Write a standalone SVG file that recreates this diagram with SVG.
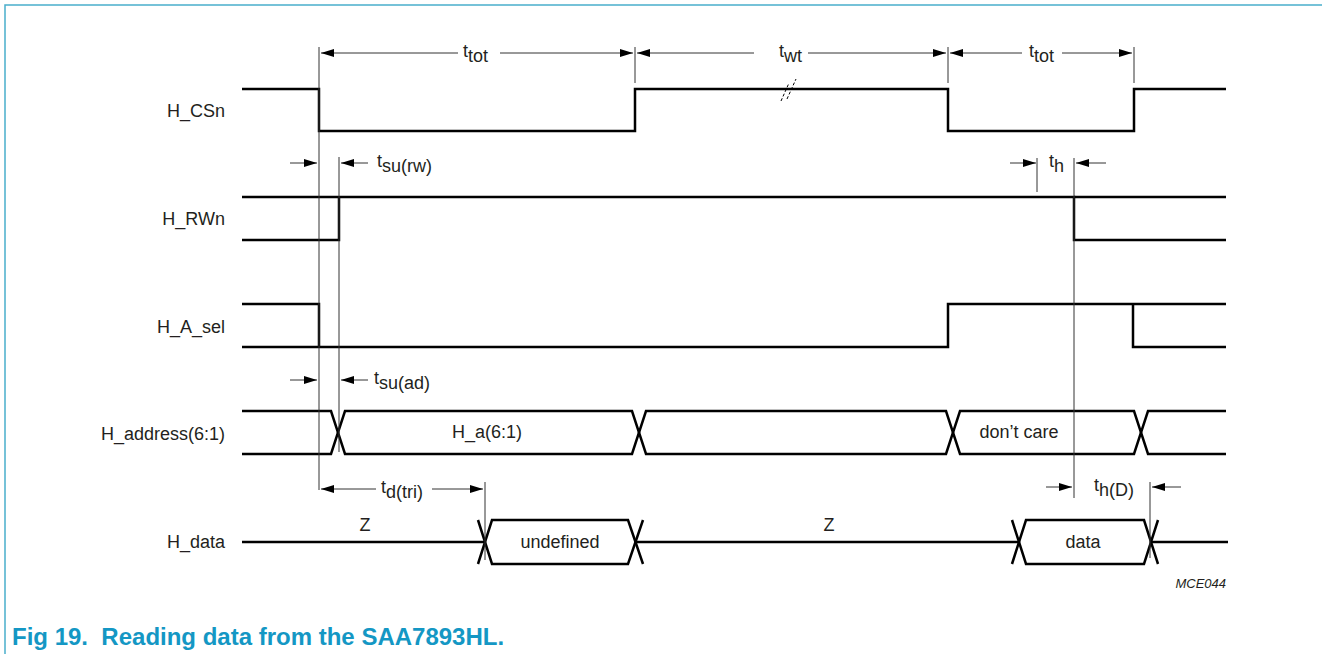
<svg xmlns="http://www.w3.org/2000/svg" width="1322" height="654" viewBox="0 0 1322 654">
<style>
  .sig{fill:none;stroke:#000;stroke-width:2.5;stroke-linejoin:miter}
  .thin{fill:none;stroke:#333;stroke-width:1}
  .dim{fill:none;stroke:#333;stroke-width:1}
  .lbl{font-family:"Liberation Sans",Arial,sans-serif;font-size:18px;fill:#231f20}
  .sub{font-size:18px}
  .frame{fill:none;stroke:#4aaecb;stroke-width:1.5}
</style>
<defs>
  <marker id="ah" viewBox="0 0 13 8" refX="13" refY="4" markerWidth="13" markerHeight="8" markerUnits="userSpaceOnUse" orient="auto-start-reverse">
    <path d="M0,0 L13,4 L0,8 z" fill="#000"/>
  </marker>
</defs>
<rect width="1322" height="654" fill="#fff"/>
<path class="frame" d="M5,654 V5 H1322"/>

<g id="labels">
  <text class="lbl" x="225" y="117" text-anchor="end">H_CSn</text>
  <text class="lbl" x="225" y="225" text-anchor="end">H_RWn</text>
  <text class="lbl" x="225" y="333" text-anchor="end">H_A_sel</text>
  <text class="lbl" x="225" y="440" text-anchor="end">H_address(6:1)</text>
  <text class="lbl" x="225" y="548" text-anchor="end">H_data</text>
</g>

<g id="H_CSn">
  <path class="sig" d="M242,89 H319 V131 H635 V89 H948 V131 H1134 V89 H1226"/>
  <path d="M781,101 L789,83 M787,99 L796,79" fill="none" stroke="#000" stroke-width="1" stroke-dasharray="3,2"/>
</g>

<g id="H_RWn">
  <path class="sig" d="M242,197 H1074 V240 H1226"/>
  <path class="sig" d="M242,240 H339 V197"/>
  <path class="sig" d="M1074,197 H1226"/>
</g>

<g id="H_A_sel">
  <path class="sig" d="M242,347 H948 V304 H1226"/>
  <path class="sig" d="M242,304 H319 V347"/>
  <path class="sig" d="M1133,304 V347 H1226"/>
</g>

<g id="H_address">
  <path class="sig" d="M242,411 H331 L345,454 H632 L646,411 H946 L960,454 H1134 L1148,411 H1226"/>
  <path class="sig" d="M242,454 H331 L345,411 H632 L646,454 H946 L960,411 H1134 L1148,454 H1226"/>
  <text class="lbl" x="487" y="438" text-anchor="middle">H_a(6:1)</text>
  <text class="lbl" x="1019" y="438" text-anchor="middle">don’t care</text>
</g>

<g id="H_data">
  <path class="sig" d="M242,542 H485"/>
  <path class="sig" d="M478,520 L492,564 H628 L643,520"/>
  <path class="sig" d="M478,564 L492,520 H628 L643,564"/>
  <path class="sig" d="M635,542 H1019"/>
  <path class="sig" d="M1012,520 L1026,564 H1144 L1158,520"/>
  <path class="sig" d="M1012,564 L1026,520 H1144 L1158,564"/>
  <path class="sig" d="M1151,542 H1228"/>
  <text class="lbl" x="365" y="531" text-anchor="middle">Z</text>
  <text class="lbl" x="829" y="531" text-anchor="middle">Z</text>
  <text class="lbl" x="560" y="548" text-anchor="middle">undefined</text>
  <text class="lbl" x="1083" y="548" text-anchor="middle">data</text>
</g>

<g id="connectors">
  <path class="thin" d="M319,47 V490 M635,47 V83 M948,47 V83 M1134,47 V83 M339,157 V452 M1037,158 V192 M1074,158 V498 M485,482 V560 M1150,482 V558"/>
  <path class="dim" marker-start="url(#ah)" d="M321,53 H458"/>
  <path class="dim" marker-end="url(#ah)" d="M500,53 H633"/>
  <path class="dim" marker-start="url(#ah)" d="M637,53 H754"/>
  <path class="dim" marker-end="url(#ah)" d="M808,53 H946"/>
  <path class="dim" marker-start="url(#ah)" d="M950,53 H1022"/>
  <path class="dim" marker-end="url(#ah)" d="M1062,53 H1132"/>
  <path class="dim" marker-end="url(#ah)" d="M290,163 H317"/>
  <path class="dim" marker-end="url(#ah)" d="M368,163 H341"/>
  <path class="dim" marker-end="url(#ah)" d="M1010,163 H1036"/>
  <path class="dim" marker-end="url(#ah)" d="M1106,163 H1076"/>
  <path class="dim" marker-end="url(#ah)" d="M290,380 H317"/>
  <path class="dim" marker-end="url(#ah)" d="M368,380 H341"/>
  <path class="dim" marker-start="url(#ah)" d="M321,489 H376"/>
  <path class="dim" marker-end="url(#ah)" d="M432,489 H483"/>
  <path class="dim" marker-end="url(#ah)" d="M1046,487 H1072"/>
  <path class="dim" marker-end="url(#ah)" d="M1181,487 H1152"/>
  <text class="lbl" x="463" y="57">t<tspan class="sub" dy="5">tot</tspan></text>
  <text class="lbl" x="779" y="57">t<tspan class="sub" dy="5">wt</tspan></text>
  <text class="lbl" x="1029" y="57">t<tspan class="sub" dy="5">tot</tspan></text>
  <text class="lbl" x="377" y="167">t<tspan class="sub" dy="5">su(rw)</tspan></text>
  <text class="lbl" x="1049" y="167">t<tspan class="sub" dy="5">h</tspan></text>
  <text class="lbl" x="374" y="384">t<tspan class="sub" dy="5">su(ad)</tspan></text>
  <text class="lbl" x="381" y="493">t<tspan class="sub" dy="5">d(tri)</tspan></text>
  <text class="lbl" x="1094" y="491">t<tspan class="sub" dy="5">h(D)</tspan></text>
</g>

<text x="1226" y="588" text-anchor="end" font-family="Liberation Sans, Arial, sans-serif" font-size="13" font-style="italic" fill="#231f20">MCE044</text>
<text x="12" y="645" font-family="Liberation Sans, Arial, sans-serif" font-size="24" font-weight="bold" fill="#1497c4">Fig 19.&#160; Reading data from the SAA7893HL.</text>
</svg>
